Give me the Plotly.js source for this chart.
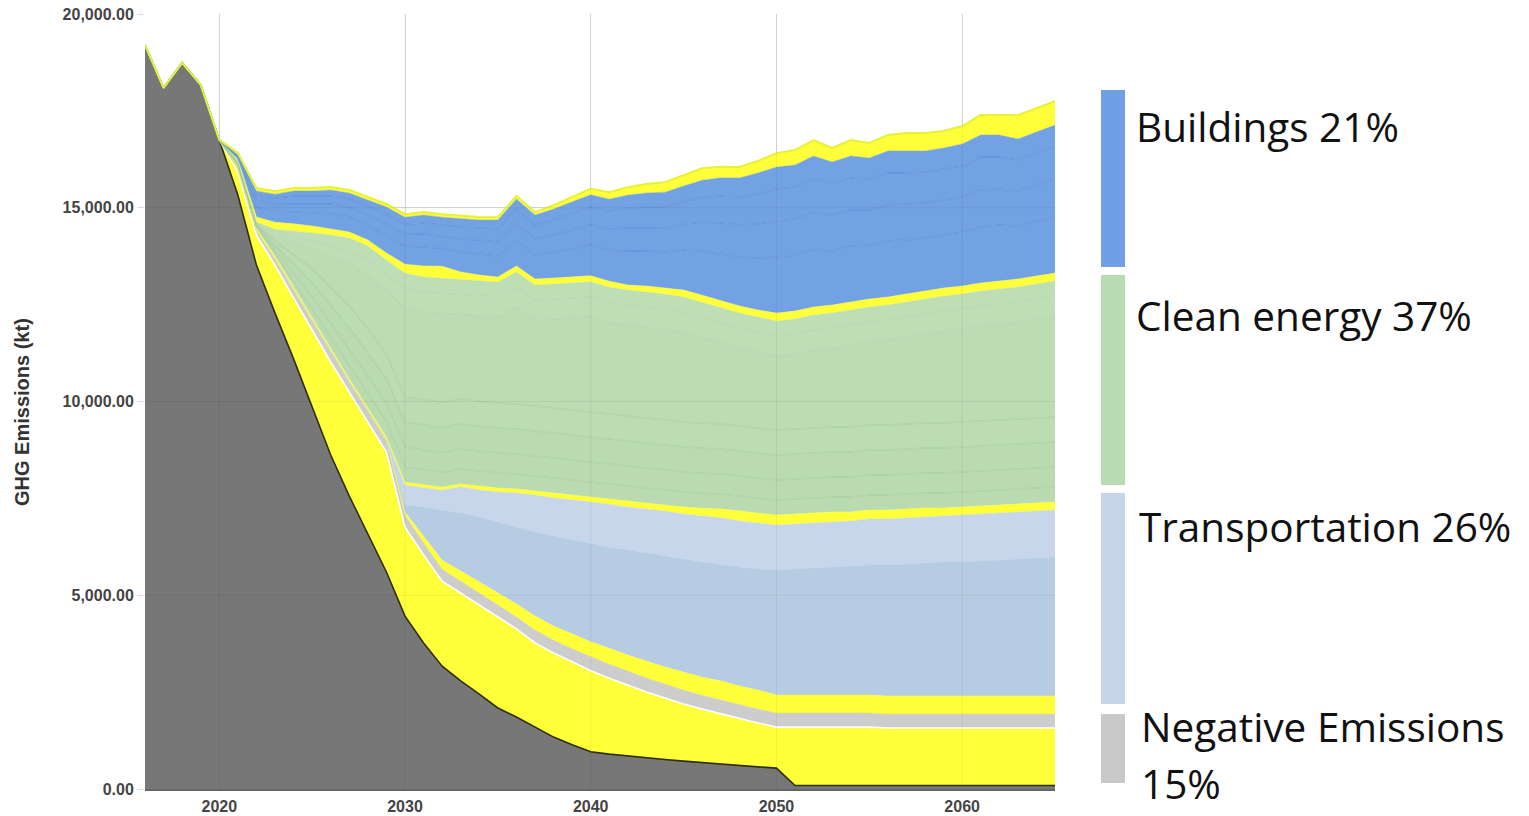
<!DOCTYPE html>
<html><head><meta charset="utf-8">
<script src="https://cdn.plot.ly/plotly-3.0.1.min.js"></script>
<style>html,body{margin:0;padding:0;background:#fff;}#chart{width:1529px;height:816px;}</style>
</head><body><div id="chart"></div>
<script>
// ---------- DATA (kt CO2e, stacked layer thicknesses) ----------
const years = [2016,2017,2018,2019,2020,2021,2022,2023,2024,2025,2026,2027,2028,2029,2030,2031,2032,2033,2034,2035,2036,2037,2038,2039,2040,2041,2042,2043,2044,2045,2046,2047,2048,2049,2050,2051,2052,2053,2054,2055,2056,2057,2058,2059,2060,2061,2062,2063,2064,2065];

const remaining = [19200,18090,18740,18170,16750,15330,13520,12280,11100,9860,8620,7560,6580,5600,4460,3770,3170,2790,2450,2090,1860,1600,1340,1140,960,900,850,800,760,720,680,650,610,570,540,90,90,90,90,90,90,90,90,90,90,90,90,90,90,90];
const reductionBand = [0,0,0,0,0,594,774,1239,1574,1987,2400,2684,2890,3097,2297,2271,2194,2271,2297,2348,2271,2168,2168,2142,2090,1961,1832,1703,1587,1471,1381,1290,1200,1135,1058,1510,1510,1510,1510,1510,1484,1484,1484,1484,1484,1484,1484,1484,1484,1484];
const negativeEmissions = [0,0,0,0,0,52,103,155,206,232,258,258,284,284,310,310,310,310,310,310,310,335,335,335,361,361,361,361,361,361,361,361,361,361,361,361,361,361,361,361,361,361,361,361,361,361,361,361,361,361];
const yellowThin = [0,0,0,0,0,26,26,26,26,26,26,26,26,52,77,181,232,258,284,310,335,361,361,387,387,413,413,439,439,465,465,490,490,490,465,465,465,465,465,465,465,465,465,465,465,465,465,465,465,465];
const transportA = [0,0,0,0,0,0,0,0,0,0,0,0,0,0,181,748,1290,1497,1677,1832,1987,2168,2323,2426,2529,2606,2710,2787,2864,2916,2968,2993,3071,3123,3226,3252,3277,3303,3329,3355,3381,3406,3432,3458,3458,3484,3510,3535,3561,3587];
const transportB = [0,0,0,0,0,0,0,0,0,0,0,0,0,0,516,490,516,671,697,774,877,955,981,1032,1084,1110,1110,1135,1161,1161,1187,1213,1187,1187,1161,1161,1161,1161,1161,1187,1187,1187,1187,1187,1213,1213,1213,1213,1213,1213];
const yellowMid = [0,0,0,0,0,52,52,52,52,52,52,52,52,52,77,77,77,77,103,103,103,103,129,129,129,129,155,155,155,181,206,232,258,258,258,258,258,258,232,232,232,232,232,206,206,206,206,206,206,206];
const clean1 = [0,0,0,0,0,26,26,77,155,232,284,335,361,387,387,387,387,387,387,387,387,387,387,387,387,387,387,387,387,387,387,387,387,387,387,387,387,387,387,387,387,387,387,387,387,387,387,387,387,387];
const clean2 = [0,0,0,0,0,26,26,103,206,310,387,439,465,490,516,516,516,516,516,516,516,516,516,516,516,516,516,516,516,516,516,516,516,516,516,516,516,516,516,516,516,516,516,516,516,516,516,516,516,516];
const clean3 = [0,0,0,0,0,26,26,103,232,361,465,542,594,619,645,645,645,645,645,645,645,645,645,645,645,645,645,645,645,645,645,645,645,645,645,645,645,645,645,645,645,645,645,645,645,645,645,645,645,645];
const clean4 = [0,0,0,0,0,26,26,103,232,361,465,568,619,645,645,645,645,645,645,645,645,645,645,645,645,645,645,645,645,645,645,645,645,645,645,645,645,645,645,645,645,645,645,645,645,645,645,645,645,645];
const clean5 = [0,0,0,0,0,26,0,155,310,516,774,1084,1394,1652,2297,2271,2297,2168,2194,2219,2503,2219,2297,2374,2452,2374,2348,2348,2348,2323,2219,2090,2013,1961,1910,1935,2013,2039,2116,2142,2194,2245,2297,2374,2400,2452,2477,2503,2555,2606];
const clean6 = [0,0,0,0,0,26,26,77,155,206,284,335,387,413,516,516,516,516,516,516,516,516,516,516,516,516,516,516,516,516,516,516,516,516,516,516,516,516,516,516,516,516,516,516,516,516,516,516,516,516];
const clean7 = [0,0,0,0,0,26,26,77,155,206,284,335,361,361,387,387,387,387,387,387,387,387,387,387,387,387,387,387,387,387,387,387,387,387,387,387,387,387,387,387,387,387,387,387,387,387,387,387,387,387];
const yellowUpper = [0,0,0,0,0,26,129,181,181,181,155,155,155,181,232,284,310,206,155,129,155,155,155,155,155,155,129,155,155,181,181,181,181,181,206,206,206,206,206,206,206,206,206,206,206,206,206,206,206,206];
const build1 = [0,0,0,0,0,26,258,284,310,335,387,387,387,439,465,490,465,516,542,542,645,619,671,723,800,800,877,903,929,1032,1135,1213,1264,1342,1445,1445,1471,1394,1445,1394,1445,1394,1368,1368,1394,1445,1445,1368,1419,1445];
const build2 = [0,0,0,0,0,26,181,181,206,232,258,258,258,310,310,335,310,335,361,361,439,413,439,490,516,542,594,594,619,671,748,800,826,877,929,929,981,929,929,903,929,929,903,903,903,955,929,903,929,955];
const build3 = [0,0,0,0,0,26,129,155,206,206,206,206,232,258,258,284,284,310,310,335,387,361,387,439,465,465,516,542,542,594,645,697,723,774,826,826,852,800,826,800,826,800,800,800,800,852,826,800,826,852];
const build4 = [0,0,0,0,0,26,103,103,129,129,155,155,155,181,181,206,206,206,206,232,258,258,284,284,310,310,335,361,387,387,439,465,490,542,568,568,594,568,568,542,568,568,542,542,568,568,568,542,542,568];
const yellowTop = [0,0,0,0,0,52,77,77,77,77,77,77,77,77,77,77,77,77,77,77,77,77,103,129,155,181,206,232,258,284,310,284,284,310,361,387,413,361,413,387,413,465,465,439,465,516,516,619,619,619];

const xTicks = [2020,2030,2040,2050,2060];
const yTicks = [0,5000,10000,15000,20000];
const legendLabels = ["Buildings 21%","Clean energy 37%","Transportation 26%","Negative Emissions","15%"];

// ---------- STYLE ----------
const C = {
  grey:'#777777', yellow:'#ffff3a', lgrey:'#cdcdcd', tA:'#b6cce2', tB:'#c8d6ec',
  green:'#bcdcb4', green2:'#badbb1', green3:'#bedeb6', blue:'#73a2e4'
};
function layer(y, fill, lineColor, lineWidth){
  return {x:years, y:y, type:'scatter', mode:'lines', stackgroup:'one',
    fillcolor:fill, line:{color:lineColor, width:lineWidth, shape:'linear'},
    hoverinfo:'skip', showlegend:false};
}
const gl = 'rgba(150,192,138,0.35)';
const gl2 = 'rgba(160,198,150,0.25)';
const bl = 'rgba(85,135,210,0.45)';
const traces = [
  layer(remaining, C.grey, '#2e2e10', 1.6),
  layer(reductionBand, C.yellow, '#ffffff', 1.6),
  layer(negativeEmissions, C.lgrey, '#d8d8a0', 0.6),
  layer(yellowThin, C.yellow, C.yellow, 0.5),
  layer(transportA, C.tA, C.tA, 0.5),
  layer(transportB, C.tB, C.tB, 0.5),
  layer(yellowMid, C.yellow, C.yellow, 0.5),
  layer(clean1, C.green2, gl, 1.5),
  layer(clean2, C.green2, gl, 1.5),
  layer(clean3, C.green2, gl, 1.5),
  layer(clean4, C.green, gl, 1.5),
  layer(clean5, C.green, gl2, 1.5),
  layer(clean6, C.green3, gl2, 1.5),
  layer(clean7, C.green3, C.green3, 0.5),
  layer(yellowUpper, C.yellow, C.yellow, 0.5),
  layer(build1, C.blue, bl, 1.5),
  layer(build2, C.blue, bl, 1.5),
  layer(build3, C.blue, bl, 1.5),
  layer(build4, C.blue, C.blue, 0.5),
  layer(yellowTop, C.yellow, '#e4f23a', 2)
];

// pixel helpers for layout-only items (legend panel)
const L=145, R=1055, T=14, B=789;
const px = x => (x-L)/(R-L);
const py = y => (B-y)/(B-T);

const shapes = [];
xTicks.forEach(v => shapes.push({type:'line', xref:'x', yref:'y', x0:v, x1:v, y0:0, y1:20000, layer:'above', line:{color:'rgba(0,0,0,0.06)', width:1}}));
yTicks.slice(1,4).forEach(v => shapes.push({type:'line', xref:'x', yref:'y', x0:2016, x1:2065, y0:v, y1:v, layer:'above', line:{color:'rgba(0,0,0,0.06)', width:1}}));
const bars = [[90,267,'#6fa0e6'],[275,485,'#b9dbb3'],[493,704,'#c6d5ea'],[714,783,'#c9c9c9']];
bars.forEach(b => shapes.push({type:'rect', xref:'paper', yref:'paper', x0:px(1101), x1:px(1125), y0:py(b[1]), y1:py(b[0]), fillcolor:b[2], line:{width:0}}));

const lf = {family:'Open Sans, Noto Sans, sans-serif', size:40.5, color:'#111'};
const legPos = [[1134,126],[1134,315],[1137,526],[1139,726],[1139,783]];
const annotations = legendLabels.map((t,i)=>({text:t, xref:'paper', yref:'paper', x:px(legPos[i][0]), y:py(legPos[i][1]), xanchor:'left', yanchor:'middle', showarrow:false, font:lf}));
annotations.push({text:'GHG Emissions (kt)', xref:'paper', yref:'paper', x:px(22), y:py(412), xanchor:'center', yanchor:'middle', textangle:-90, showarrow:false,
  font:{family:'Liberation Sans, Arial, sans-serif', size:20, color:'#333', weight:'bold'}});

const tickFont = {family:'Liberation Sans, Arial, sans-serif', size:16, color:'#444', weight:'bold'};
const layout = {
  width:1529, height:816, margin:{l:L, r:1529-R, t:T, b:816-B},
  paper_bgcolor:'#fff', plot_bgcolor:'#fff', showlegend:false,
  xaxis:{range:[2016,2065], tickvals:xTicks, ticktext:xTicks.map(String), showgrid:true, gridcolor:'#dddddd',
    zeroline:false, showline:true, linecolor:'#666', linewidth:1.5, ticks:'outside', ticklen:2, tickcolor:'rgba(0,0,0,0)',
    tickfont:tickFont, fixedrange:true},
  yaxis:{range:[0,20000], tickvals:yTicks, tickformat:',.2f', showgrid:true, gridcolor:'#dddddd', zeroline:false,
    ticks:'outside', ticklen:7, tickcolor:'#dddddd', tickfont:tickFont, fixedrange:true},
  shapes:shapes, annotations:annotations
};
Plotly.newPlot('chart', traces, layout, {displayModeBar:false, staticPlot:true});
</script></body></html>
